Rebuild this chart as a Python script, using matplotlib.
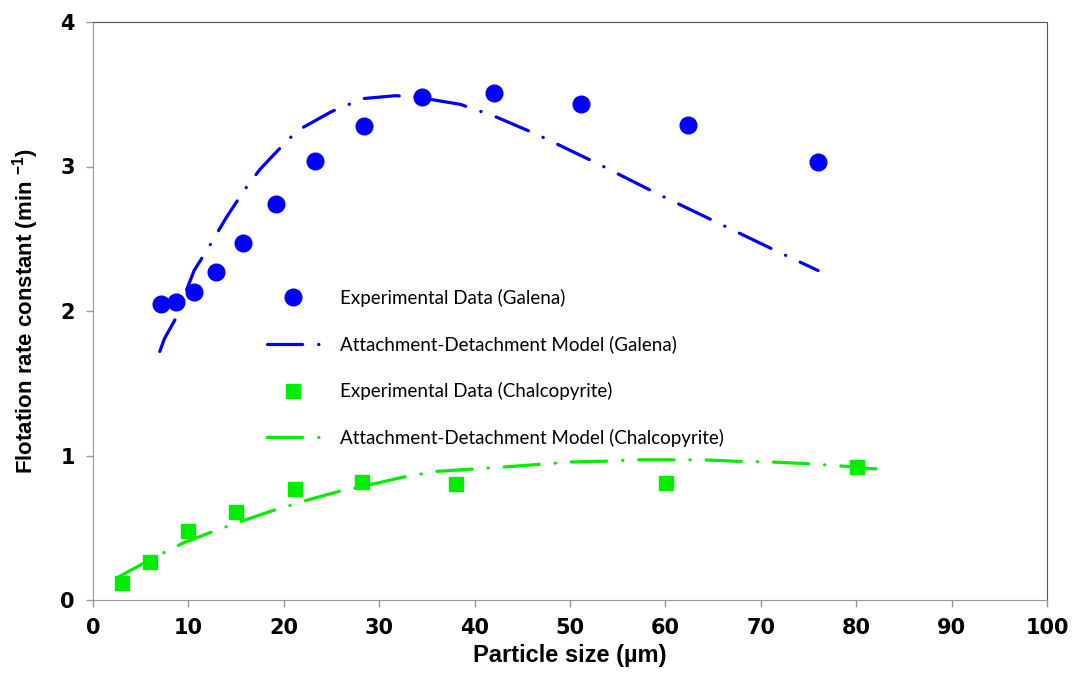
import matplotlib.pyplot as plt
import numpy as np

################################################################################
# data

# Galena, experimental
gal_x = [7.1, 8.7, 10.6, 12.9, 15.7, 19.2, 23.3, 28.4, 34.5, 42.0, 51.2, 62.4, 76.0]
gal_y = [2.05, 2.06, 2.13, 2.27, 2.47, 2.74, 3.04, 3.28, 3.48, 3.51, 3.43, 3.29, 3.03]

# Galena, attachment-detachment model
gal_mx = [7.0, 7.5, 8.6, 10.6, 12.3, 14.0, 15.9, 17.5, 20.5, 22.0, 25.0, 28.3,
          31.7, 34.0, 38.5, 42.0, 46.6, 52.9, 59.2, 65.5, 71.8, 76.0]
gal_my = [1.72, 1.81, 1.94, 2.28, 2.46, 2.65, 2.84, 2.98, 3.19, 3.27, 3.38, 3.47,
          3.49, 3.48, 3.43, 3.35, 3.22, 3.02, 2.81, 2.61, 2.41, 2.28]

# Chalcopyrite, experimental
cha_x = [3.0, 6.0, 10.0, 15.0, 21.2, 28.2, 38.1, 60.1, 80.1]
cha_y = [0.12, 0.26, 0.48, 0.61, 0.77, 0.82, 0.80, 0.81, 0.92]

# Chalcopyrite, attachment-detachment model
cha_mx = [2.7, 6.0, 9.3, 12.4, 15.8, 18.9, 22.4, 25.7, 29.2, 32.5, 36.0, 39.5,
          43.0, 46.0, 50.0, 53.5, 57.0, 60.5, 64.0, 67.5, 71.0, 74.5, 78.0, 81.4, 82.5]
cha_my = [0.16, 0.28, 0.39, 0.47, 0.55, 0.62, 0.69, 0.75, 0.80, 0.85, 0.89, 0.905,
          0.92, 0.935, 0.955, 0.96, 0.97, 0.97, 0.97, 0.96, 0.955, 0.945, 0.93, 0.91, 0.905]

labels = ['Experimental Data (Galena)',
          'Attachment-Detachment Model (Galena)',
          'Experimental Data (Chalcopyrite)',
          'Attachment-Detachment Model (Chalcopyrite)']

################################################################################

plt.rcParams['mathtext.default'] = 'regular'

blue = '#0000FF'
green = '#00EE00'
dd = (11, 5, 0.1, 5)

fig = plt.figure(figsize=(10.75, 6.91), dpi=100)
ax = fig.add_axes([93/1075, 1 - 600/691, (1047-93)/1075, (600-22)/691])

l1, = ax.plot(gal_x, gal_y, 'o', color=blue, ms=12, ls='none', zorder=3)
l2, = ax.plot(gal_mx, gal_my, color=blue, lw=2.3, dashes=dd, dash_capstyle='round')
l3, = ax.plot(cha_x, cha_y, 's', color=green, ms=9.5, ls='none', zorder=3)
l4, = ax.plot(cha_mx, cha_my, color=green, lw=2.3, dashes=dd, dash_capstyle='round')

ax.set_xlim(0, 100)
ax.set_ylim(0, 4)
ax.set_xticks(np.arange(0, 101, 10))
ax.set_yticks([0, 1, 2, 3, 4])

for s in ['left', 'bottom']:
    ax.spines[s].set_color('#999999')
for s in ['top', 'right']:
    ax.spines[s].set_color('#555555')
ax.tick_params(direction='out', length=5, width=1, color='#999999', pad=8)
for t in ax.get_xticklabels() + ax.get_yticklabels():
    t.set_fontweight('bold')
    t.set_fontsize(15)
    t.set_family('DejaVu Sans')

ax.set_xlabel('Particle size (µm)', fontsize=17, fontweight='bold',
              family='Liberation Sans', labelpad=4)
ax.set_ylabel('Flotation rate constant (min $^{-1}$)', fontsize=16,
              fontweight='bold', family='Liberation Sans', labelpad=14)

leg = ax.legend([l1, l2, l3, l4], labels, loc='upper left',
                bbox_to_anchor=(250/1075, 1 - 272/691), bbox_transform=fig.transFigure,
                frameon=False, prop={'family': 'Lato', 'size': 13.5},
                handlelength=2.8, handletextpad=1.1, labelspacing=1.53,
                numpoints=1, borderpad=0.4)

plt.savefig('out.png', dpi=100)
